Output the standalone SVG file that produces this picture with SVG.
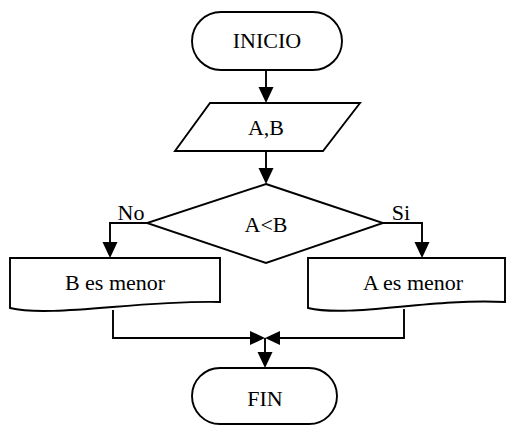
<svg xmlns="http://www.w3.org/2000/svg" width="515" height="425" viewBox="0 0 515 425">
  <style>
    .shape { fill: #ffffff; stroke: #000000; stroke-width: 1.9; }
    .wire { fill: none; stroke: #000000; stroke-width: 1.9; }
    .head { fill: #000000; stroke: none; }
  </style>
  <rect width="515" height="425" fill="#ffffff"/>

  <g id="connectors">
    <!-- INICIO to input -->
    <line class="wire" x1="266" y1="70" x2="266" y2="90"/>
    <polygon class="head" points="258.5,87 273.5,87 266,103"/>
    <!-- input to decision -->
    <line class="wire" x1="266" y1="151" x2="266" y2="170"/>
    <polygon class="head" points="258.5,168 273.5,168 266,184"/>
    <!-- No branch -->
    <polyline class="wire" points="147,223 110,223 110,245"/>
    <polygon class="head" points="102.5,242 117.5,242 110,258"/>
    <!-- Si branch -->
    <polyline class="wire" points="383,223 422,223 422,245"/>
    <polygon class="head" points="414.5,242 429.5,242 422,258"/>
    <!-- merge -->
    <polyline class="wire" points="113,310 113,338 252,338"/>
    <polygon class="head" points="250,331 250,345 265,338"/>
    <polyline class="wire" points="404,309 404,338 279,338"/>
    <polygon class="head" points="280,331 280,345 265,338"/>
    <line class="wire" x1="265" y1="338" x2="265" y2="355"/>
    <polygon class="head" points="257.5,352 272.5,352 265,368"/>
  </g>

  <g font-family="Liberation Serif, Times New Roman, serif" font-size="22" fill="#000000" text-anchor="middle">
    <g id="inicio">
      <rect class="shape" x="192" y="12" width="150" height="58" rx="29" ry="29"/>
      <text x="267" y="48">INICIO</text>
    </g>

    <g id="entrada">
      <polygon class="shape" points="210,103 360,103 323,151 175,151"/>
      <text x="266" y="135">A,B</text>
    </g>

    <g id="decision">
      <polygon class="shape" points="266,184 383,223 266,263 147,223"/>
      <text x="266" y="232">A&lt;B</text>
      <text x="131" y="220">No</text>
      <text x="401" y="220">Si</text>
    </g>

    <g id="b-menor">
      <path class="shape" d="M10,258 H220 V302 C140,300 50,318 10,308 Z"/>
      <text x="115" y="290">B es menor</text>
    </g>

    <g id="a-menor">
      <path class="shape" d="M308,258 H505 V302 C430,298 350,318 308,308 Z"/>
      <text x="413" y="290">A es menor</text>
    </g>

    <g id="fin">
      <rect class="shape" x="192" y="368" width="145" height="56" rx="28" ry="28"/>
      <text x="265" y="406">FIN</text>
    </g>
  </g>
</svg>
